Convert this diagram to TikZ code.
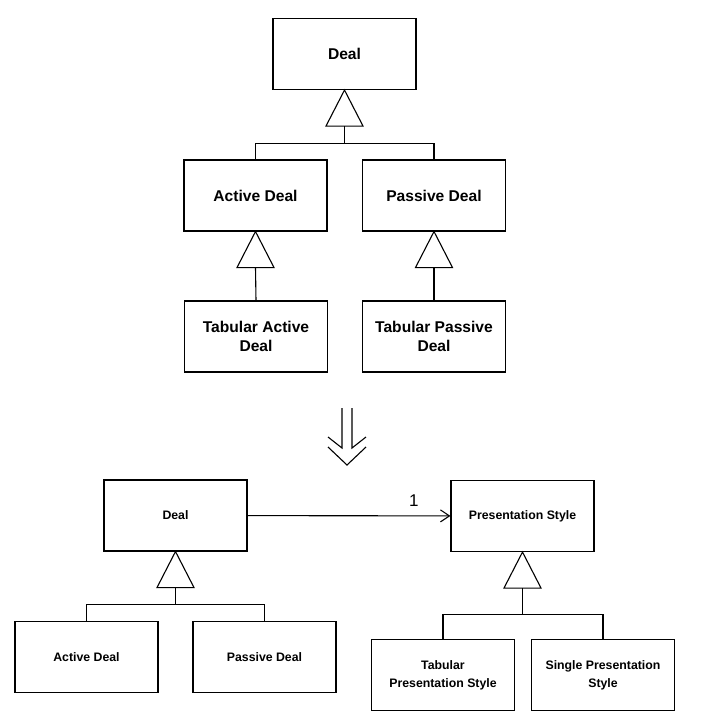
\documentclass[tikz,border=0pt]{standalone}
\usepackage{fontspec}
\setmainfont{Liberation Sans}
\usepackage{tikz}
\usetikzlibrary{arrows.meta}

\tikzset{
  classbox/.style={draw,line width=1.1pt,rectangle,align=center,
    minimum width=143pt,minimum height=71pt,inner sep=2pt},
  bigtext/.style={font=\fontsize{15.6}{19}\selectfont\bfseries},
  smalltext/.style={font=\fontsize{12.3}{18}\selectfont\bfseries},
  umlline/.style={line width=1.1pt}
}

\begin{document}
\begin{tikzpicture}[x=1pt,y=-1pt,umlline]
  \useasboundingbox (0,0) rectangle (701,724);
  % before
  \node[classbox,bigtext] (deal) at (344.5,54) {Deal};
  \node[classbox,bigtext] (active) at (255.5,195.5) {Active Deal};
  \node[classbox,bigtext] (passive) at (434,195.5) {Passive Deal};
  \node[classbox,bigtext] (tabactive) at (256,336.5) {Tabular Active\\Deal};
  \node[classbox,bigtext] (tabpassive) at (434,336.5) {Tabular Passive\\Deal};
  \draw (deal.south) -- ++(-18.5,36) -- ++(37,0) -- cycle;
  \draw (deal.south) ++(0,36) -- ++(0,17) coordinate (B1);
  \draw (active.north) |- (B1) -| (passive.north);
  \draw (active.south) -- ++(-18.5,36) -- ++(37,0) -- cycle;
  \draw (active.south) ++(0,36) -- (tabactive.north);
  \draw (passive.south) -- ++(-18.5,36) -- ++(37,0) -- cycle;
  \draw (passive.south) ++(0,36) -- (tabpassive.north);
  % refactoring arrow
  \coordinate (R) at (347,408);
  \draw (R) ++(-5,0) -- ++(0,40) -- ++(-14,-11);
  \draw (R) ++(5,0) -- ++(0,40) -- ++(14,-11);
  \draw (R) ++(-19,39) -- ++(19,18) -- ++(19,-18);
  % after
  \node[classbox,smalltext] (bdeal) at (175.5,515.5) {Deal};
  \node[classbox,smalltext] (pstyle) at (522.5,516) {Presentation Style};
  \node[classbox,smalltext] (bactive) at (86.5,657) {Active Deal};
  \node[classbox,smalltext] (bpassive) at (264.5,657) {Passive Deal};
  \node[classbox,smalltext] (tabstyle) at (443,675) {Tabular\\Presentation Style};
  \node[classbox,smalltext] (single) at (603,675) {Single Presentation\\Style};
  \draw[-{Straight Barb[length=9pt,width=12pt]}] (bdeal) -- (pstyle)
    node[pos=0.82,above=5pt,font=\fontsize{17}{20}\selectfont] {1};
  \draw (bdeal.south) -- ++(-18.5,36) -- ++(37,0) -- cycle;
  \draw (bdeal.south) ++(0,36) -- ++(0,17) coordinate (B2);
  \draw (bactive.north) |- (B2) -| (bpassive.north);
  \draw (pstyle.south) -- ++(-18.5,36) -- ++(37,0) -- cycle;
  \draw (pstyle.south) ++(0,36) -- ++(0,26) coordinate (B3);
  \draw (tabstyle.north) |- (B3) -| (single.north);
\end{tikzpicture}
\end{document}
